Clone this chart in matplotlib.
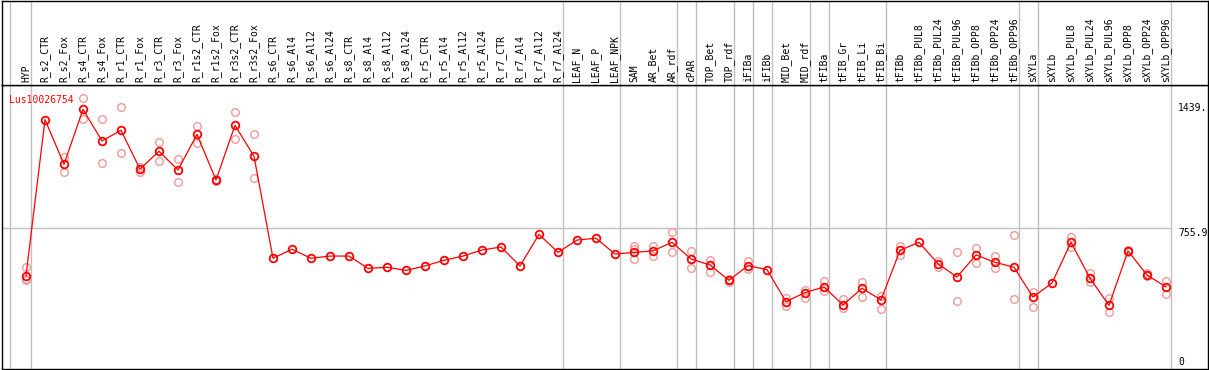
import matplotlib
matplotlib.use("Agg")
import matplotlib.pyplot as plt

# sample names along the top
samples = ["HYP", "R_s2_CTR", "R_s2_Fox", "R_s4_CTR", "R_s4_Fox", "R_r1_CTR", "R_r1_Fox",
           "R_r3_CTR", "R_r3_Fox", "R_r1s2_CTR", "R_r1s2_Fox", "R_r3s2_CTR", "R_r3s2_Fox",
           "R_s6_CTR", "R_s6_Al4", "R_s6_Al12", "R_s6_Al24", "R_s8_CTR", "R_s8_Al4",
           "R_s8_Al12", "R_s8_Al24", "R_r5_CTR", "R_r5_Al4", "R_r5_Al12", "R_r5_Al24",
           "R_r7_CTR", "R_r7_Al4", "R_r7_Al12", "R_r7_Al24", "LEAF_N", "LEAF_P", "LEAF_NPK",
           "SAM", "AR_Bet", "AR_rdf", "cPAR", "TOP_Bet", "TOP_rdf", "iFIBa", "iFIBb",
           "MID_Bet", "MID_rdf", "tFIBa", "tFIB_Gr", "tFIB_Li", "tFIB_Bi", "tFIBb",
           "tFIBb_PUL8", "tFIBb_PUL24", "tFIBb_PUL96", "tFIBb_OPP8", "tFIBb_OPP24",
           "tFIBb_OPP96", "sXYLa", "sXYLb", "sXYLb_PUL8", "sXYLb_PUL24", "sXYLb_PUL96",
           "sXYLb_OPP8", "sXYLb_OPP24", "sXYLb_OPP96"]

# mean expression
means = [498, 1347, 1104, 1403, 1231, 1289, 1078, 1175, 1073, 1267, 1019, 1316, 1148,
         593, 642, 593, 605, 605, 538, 544, 527, 551, 582, 605, 638, 654, 551, 723, 625,
         692, 702, 616, 625, 633, 680, 589, 556, 473, 553, 531, 357, 406, 437, 339, 430,
         366, 636, 680, 563, 491, 611, 571, 544, 382, 458, 680, 484, 337, 633, 502, 437]

# individual replicates
reps = [[544, 480, 475], [], [1145, 1064], [1463, 1349], [1349, 1109], [1414, 1165],
        [1088, 1064], [1224, 1120], [1135, 1009], [1312, 1222], [1015, 1024],
        [1387, 1240], [1269, 1028],
        [], [], [], [], [], [], [], [], [], [], [], [], [], [], [], [], [], [], [],
        [660, 645, 590], [660, 605], [736, 625], [631, 538], [584, 520], [480, 465],
        [580, 533], [], [375, 333], [420, 375], [471, 417], [371, 321], [464, 384],
        [388, 319], [661, 612], [], [580, 547], [625, 361], [650, 569], [605, 538],
        [720, 370], [410, 330], [], [710, 656], [511, 462], [375, 302], [640, 625],
        [511, 494], [468, 397]]

gene = "Lus10026754"
ylabels = [1439, 755.9, 0]
group_ends = [0, 28, 31, 34, 35, 37, 38, 39, 41, 42, 45, 52, 53, 60]

W, H = 1209, 370
fig = plt.figure(figsize=(W / 100, H / 100), dpi=100)
ax = fig.add_axes([1.5 / W, 0.7 / H, 1206 / W, 284.3 / H])
axl = fig.add_axes([1.5 / W, 285 / H, 1206 / W, 84.5 / H])

x = list(range(len(samples)))
xmin, xmax = (1.5 - 26) / 19, (1207.5 - 26) / 19
grey = "#c0c0c0"
mono = "DejaVu Sans Mono"

for a in (ax, axl):
    a.set_xlim(xmin, xmax)
    a.set_xticks([])
    a.set_yticks([])
    for s in a.spines.values():
        s.set_linewidth(1.0)
        s.set_color("black")
    a.axvline(-0.82, color=grey, lw=1.0, zorder=0)
    for g in group_ends:
        a.axvline(g + 0.25, color=grey, lw=1.0, zorder=0)

ax.set_ylim(-10.9, 1535.3)
ax.hlines(755.9, xmin, 60.21, color=grey, lw=1.0, zorder=0)

rx, ry = [], []
for i, r in enumerate(reps):
    for v in r:
        rx.append(i)
        ry.append(v)
ax.plot(rx, ry, "o", ms=5.5, mfc="none", mec="#f09a9a", mew=1.0, zorder=2)
ax.plot(x, means, "-", color="red", lw=0.9, zorder=3)
ax.plot(x, means, "o", ms=5.5, mfc="none", mec="red", mew=1.3, zorder=4)

ax.text(-0.9, 1455, gene, color="red", fontsize=7.0, family=mono, va="center", ha="left")
for v in ylabels:
    lbl = "0" if v == 0 else ("%.1f" % v if v < 1000 else "%d." % v)
    ax.text(60.65, max(v, 30), lbl, fontsize=7.0, family=mono, va="top" if v else "center", ha="left")

axl.set_ylim(0, 1)
for i, s in enumerate(samples):
    axl.text(i, 0.03, s, rotation=90, fontsize=7.0, family=mono, ha="center", va="bottom")

fig.savefig("out.png", dpi=100)
